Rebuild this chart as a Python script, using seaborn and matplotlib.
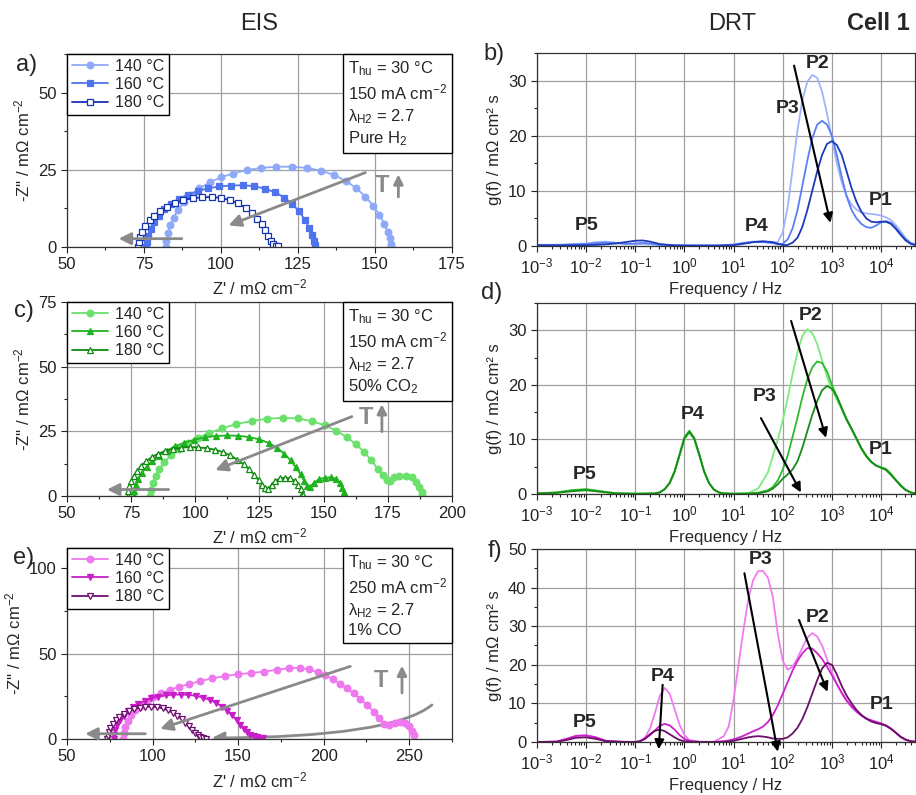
import numpy as np
import pandas as pd
import matplotlib
matplotlib.use("Agg")
import matplotlib.pyplot as plt
from matplotlib.path import Path
from matplotlib.patches import FancyArrowPatch
from matplotlib.ticker import MultipleLocator, LogLocator, NullFormatter
from matplotlib.offsetbox import AnchoredText
import seaborn as sns


TEMPS = ['140 °C', '160 °C', '180 °C']

# ---------------- EIS a) pure H2 ----------------
a_re_140 = [82, 82.2, 82.7, 83.5, 84.6, 86, 88, 90.3, 93, 96.3, 100, 104, 108.3, 113, 118, 123, 128, 132.5,
            136.8, 140.6, 144, 146.9, 149.4, 151.4, 153, 154.1, 154.8, 155.1, 155.2]
a_im_140 = [0, 2, 4.5, 7, 9.5, 12, 14.5, 16.8, 19, 20.9, 22.6, 23.8, 24.9, 25.6, 26, 26, 25.6, 24.7,
            23.3, 21.4, 19, 16.3, 13.4, 10.5, 7.6, 5, 2.8, 1, 0.2]
a_re_160 = [75.8, 76, 76.4, 77.2, 78.3, 79.8, 81.6, 83.8, 86.3, 89.2, 92.4, 95.8, 99.4, 103.2, 107, 110.7,
            114.3, 117.6, 120.6, 123.2, 125.4, 127.2, 128.6, 129.6, 130.3, 130.6]
a_im_160 = [0, 1.5, 3.5, 5.8, 8, 10.2, 12.2, 14, 15.6, 17, 18.1, 19, 19.6, 19.9, 20, 19.7,
            18.9, 17.7, 16, 13.9, 11.5, 8.9, 6.3, 3.9, 1.9, 0.5]
a_re_180 = [73.2, 73.4, 73.8, 74.5, 75.5, 76.8, 78.4, 80.3, 82.5, 85, 87.8, 90.8, 93.9, 97, 100, 102.9,
            105.6, 108, 110, 111.8, 113.2, 114.4, 115.4, 116.2, 117, 117.8, 118.6]
a_im_180 = [0, 1.5, 3.2, 5, 6.8, 8.6, 10.2, 11.7, 13, 14.2, 15.1, 15.8, 16.1, 16.2, 15.9, 15.2,
            14.1, 12.7, 11, 9.2, 7.3, 5.4, 3.6, 2, 0.9, 0.4, 0.2]

# ---------------- EIS c) 50% CO2 ----------------
c_re_140 = [82.5, 82.8, 83.4, 84.5, 86, 88, 90.5, 93.5, 97, 101, 105.5, 110.5, 116, 122, 128, 134, 140,
            145.5, 150.5, 155, 159, 162.6, 165.8, 168.6, 171, 173, 174.5, 176, 177.5, 179.5, 182, 184.3,
            186, 187.3, 188.2, 188.5]
c_im_140 = [0, 2.5, 5, 7.8, 10.5, 13.2, 15.8, 18.2, 20.4, 22.5, 24.4, 26.2, 27.8, 29, 29.9, 30.2, 30,
            28.9, 27.3, 25.2, 22.8, 20, 17, 13.8, 10.6, 8, 6.2, 5.8, 7.2, 7.8, 7.7, 7.2,
            5.6, 3.6, 1.5, 0.4]
c_re_160 = [76, 76.2, 76.8, 77.8, 79.2, 81, 83.2, 85.8, 88.8, 92.1, 95.7, 99.6, 103.7, 108, 112.4, 116.7,
            120.9, 124.9, 128.6, 131.9, 134.7, 137.1, 139.2, 141, 142.4, 143.5, 144.8, 146.3, 148.2,
            150.5, 153, 155, 156.3, 157.3, 158.1, 158.5]
c_im_160 = [0, 2, 4.3, 6.7, 9, 11.3, 13.5, 15.6, 17.5, 19.2, 20.6, 21.8, 22.7, 23.2, 23.4, 23.3,
            22.8, 21.9, 20.5, 18.6, 16.3, 13.8, 11.1, 8.4, 5.9, 4, 3.5, 5.2, 6.4,
            7.1, 7.2, 6.6, 5, 3.2, 1.5, 0.3]
c_re_180 = [73.8, 73.9, 74.3, 75, 76, 77.3, 78.9, 80.8, 83, 85.5, 88.3, 91.3, 94.5, 97.8, 101.1, 104.4,
            107.6, 110.7, 113.6, 116.3, 118.8, 121, 123, 124.7, 126.1, 127.3, 128.5, 129.7, 131.2, 133,
            135, 137, 138.7, 140, 141, 141.7, 142]
c_im_180 = [0, 1.8, 3.8, 5.8, 7.8, 9.8, 11.7, 13.4, 15, 16.3, 17.4, 18.2, 18.7, 18.9, 18.8, 18.5,
            17.9, 17, 15.7, 14.1, 12.3, 10.3, 8.2, 6.1, 4.3, 3, 2.8, 4.3, 5.8, 6.8,
            7.1, 6.8, 5.9, 4.4, 2.6, 0.9, 0.2]

# ---------------- EIS e) 1% CO ----------------
e_re_140 = [83, 83.3, 84.2, 85.6, 87.6, 90, 93, 96.5, 100.5, 105, 110, 115.5, 121.5, 128, 135, 142.5,
            150, 157.5, 165, 172.5, 180, 186, 191.5, 196.5, 201, 205.5, 209.5, 213.5, 217.5, 221.5,
            225.5, 229.2, 232.5, 235.5, 238.5, 241.5, 244.5, 247.5, 250, 251.8, 252.8]
e_im_140 = [0, 3.5, 7, 10.5, 13.8, 16.8, 19.5, 22, 24.5, 26.8, 28.8, 30.6, 32.3, 34, 35.6, 37,
            38, 38.7, 39.5, 40.6, 41.5, 41.7, 40.8, 39.2, 37.3, 35, 32.5, 29.8, 26.8, 23.5,
            19.8, 16, 12.2, 9, 8.3, 9.5, 10.2, 9.5, 7.6, 5, 2.5]
e_re_160 = [77.3, 77.5, 78.2, 79.4, 81, 83.1, 85.6, 88.5, 91.8, 95.4, 99.3, 103.4, 107.7, 112.1, 116.6,
            121, 125.4, 129.6, 133.6, 137.3, 140.7, 143.8, 146.6, 149.1, 151.3, 153.3, 155.2, 157.2,
            159.3, 161.3, 163.3, 164.8]
e_im_160 = [0, 2.5, 5.3, 8.2, 11, 13.7, 16.3, 18.6, 20.7, 22.4, 23.8, 24.9, 25.6, 26, 26.1,
            25.9, 25.3, 24.3, 22.9, 21.1, 19, 16.5, 13.8, 11, 8.3, 5.9, 4, 2.6,
            1.6, 1, 0.6, 0.4]
e_re_180 = [73.5, 73.7, 74.3, 75.3, 76.7, 78.5, 80.7, 83.2, 86, 89.1, 92.4, 95.8, 99.2, 102.6, 105.9,
            109, 111.9, 114.6, 117, 119.2, 121.2, 123, 124.7, 126.3, 127.9, 129.5, 131]
e_im_180 = [0, 2, 4.2, 6.5, 8.8, 11, 13, 14.8, 16.3, 17.5, 18.4, 18.9, 19, 18.7, 18,
            16.9, 15.4, 13.6, 11.6, 9.5, 7.4, 5.5, 3.8, 2.4, 1.3, 0.6, 0.3]

# ---------------- DRT b) ----------------
b_logf = [-3.0, -2.5, -2.0, -1.8, -1.6, -1.4, -1.2, -1.0, -0.85, -0.7, -0.5, -0.2, 0.2, 0.7, 1.0, 1.2,
          1.4, 1.6, 1.8, 1.9, 2.0, 2.1, 2.2, 2.3, 2.4, 2.5, 2.6, 2.7, 2.8, 2.9, 3.0, 3.1, 3.2, 3.3, 3.4,
          3.5, 3.6, 3.7, 3.8, 3.9, 4.0, 4.1, 4.2, 4.3, 4.4, 4.5, 4.6, 4.7]
b_g_140 = [0.2, 0.25, 0.45, 0.7, 0.8, 0.6, 0.35, 0.3, 0.35, 0.3, 0.15, 0.1, 0.1, 0.1, 0.3, 0.6,
           0.8, 0.8, 0.6, 0.7, 2.5, 7, 14, 21, 26.5, 29.8, 31, 30.5, 28, 24, 19.5, 15, 11.5, 9, 7.5,
           6.6, 6.1, 5.9, 5.8, 5.7, 5.5, 5.2, 4.7, 3.8, 2.6, 1.4, 0.6, 0.3]
b_g_160 = [0.2, 0.2, 0.35, 0.5, 0.6, 0.5, 0.4, 0.45, 0.55, 0.45, 0.2, 0.1, 0.1, 0.1, 0.2, 0.5,
           0.7, 0.7, 0.5, 0.3, 0.4, 1.2, 3.2, 6.5, 11, 15.5, 19.5, 22, 22.7, 22, 20, 16.5, 12.5, 9, 6.5,
           5, 4, 3.4, 3.3, 3.7, 4.3, 4.5, 4.2, 3.3, 2.2, 1.2, 0.5, 0.2]
b_g_180 = [0.1, 0.1, 0.15, 0.2, 0.3, 0.45, 0.7, 0.95, 1.0, 0.8, 0.35, 0.1, 0.05, 0.05, 0.15, 0.4,
           0.7, 0.85, 0.7, 0.4, 0.15, 0.2, 0.6, 1.5, 3.5, 6.5, 10, 13.5, 16.5, 18.5, 19, 18.3, 16.5, 13.5, 10.5,
           8, 6.2, 5, 4.4, 4.3, 4.4, 4.4, 4.0, 3.1, 2.0, 1.0, 0.4, 0.15]

# ---------------- DRT d) ----------------
d_logf = [-3.0, -2.6, -2.3, -2.0, -1.7, -1.4, -1.0, -0.6, -0.5, -0.4, -0.3, -0.2, -0.1, 0.0, 0.1, 0.2,
          0.3, 0.4, 0.5, 0.6, 0.7, 0.8, 1.0, 1.3, 1.5, 1.7, 1.8, 1.9, 2.0, 2.1, 2.2, 2.3, 2.4, 2.5, 2.6,
          2.7, 2.8, 2.9, 3.0, 3.1, 3.2, 3.3, 3.4, 3.5, 3.6, 3.7, 3.8, 3.9, 4.0, 4.1, 4.2, 4.3, 4.4, 4.5,
          4.6, 4.7]
d_g_140 = [0.1, 0.3, 0.6, 0.8, 0.5, 0.15, 0.05, 0.1, 0.3, 0.9, 2.0, 4.0, 7.0, 10.0, 11.2, 10.0,
           7.2, 4.1, 2.0, 0.8, 0.3, 0.1, 0.05, 0.2, 1.0, 4.0, 7.0, 10.0, 13.5, 17.5, 22, 26, 29, 30.2, 29.5,
           27.5, 24.5, 21.5, 19, 17.3, 15.5, 13.5, 11.8, 10, 8.2, 6.8, 5.8, 5.2, 4.9, 4.6, 3.7, 2.6, 1.6, 0.8,
           0.3, 0.1]
d_g_160 = [0.1, 0.3, 0.7, 0.9, 0.5, 0.15, 0.05, 0.1, 0.3, 0.9, 2.1, 4.2, 7.3, 10.4, 11.6, 10.3,
           7.4, 4.2, 2.0, 0.8, 0.3, 0.1, 0.05, 0.1, 0.25, 0.7, 1.3, 2.5, 4.5, 7, 10.5, 14, 17.8, 21, 23.2,
           24.3, 24, 22.5, 20, 17.8, 15.6, 13.6, 11.9, 10.1, 8.3, 6.9, 5.9, 5.2, 4.9, 4.6, 3.7, 2.6, 1.6, 0.8,
           0.3, 0.1]
d_g_180 = [0.1, 0.2, 0.5, 0.7, 0.4, 0.1, 0.05, 0.1, 0.3, 0.9, 2.0, 4.1, 7.1, 10.2, 11.4, 10.1,
           7.2, 4.1, 2.0, 0.8, 0.3, 0.1, 0.05, 0.05, 0.1, 0.5, 1.0, 1.8, 2.8, 3.6, 4.5, 6.0, 8.5, 11.5, 14.5,
           17, 19, 19.8, 19.3, 17.9, 15.8, 13.7, 12.0, 10.2, 8.4, 7.0, 5.9, 5.2, 4.8, 4.4, 3.5, 2.5, 1.5, 0.7,
           0.3, 0.1]

# ---------------- DRT f) ----------------
f_logf = [-3.0, -2.6, -2.4, -2.2, -2.0, -1.8, -1.6, -1.3, -1.0, -0.9, -0.8, -0.7, -0.6, -0.5, -0.4, -0.3,
          -0.2, -0.1, 0.0, 0.1, 0.3, 0.6, 0.8, 0.9, 1.0, 1.1, 1.2, 1.3, 1.4, 1.5, 1.6, 1.7, 1.8, 1.9, 2.0,
          2.1, 2.2, 2.3, 2.4, 2.5, 2.6, 2.7, 2.8, 2.9, 3.0, 3.1, 3.2, 3.3, 3.4, 3.5, 3.6, 3.7, 3.8, 3.9,
          4.0, 4.1, 4.2, 4.3, 4.4, 4.5, 4.6, 4.7]
f_g_140 = [0, 0.1, 0.8, 1.6, 1.7, 1.2, 0.3, 0.05, 0, 0.3, 1.2, 3.5, 7.5, 12, 14, 12.5,
           8.5, 4.5, 1.8, 0.5, 0.05, 0.05, 1.5, 4, 11, 20, 29, 37, 42, 44.3, 44.3, 42.5, 37.5, 28, 21,
           18.7, 19.5, 21.7, 24.5, 27, 28.2, 27.3, 25, 21.5, 18, 15, 12.5, 10.5, 9, 7.8, 6.8, 6.1, 5.6, 5.2,
           4.8, 4.3, 3.5, 2.4, 1.3, 0.6, 0.2, 0.05]
f_g_160 = [0, 0.1, 0.8, 1.6, 1.7, 1.2, 0.3, 0.05, 0, 0.2, 0.8, 1.8, 3.0, 4.2, 4.7, 4.3,
           3.2, 1.8, 0.8, 0.3, 0.05, 0, 0.2, 0.4, 0.7, 1.1, 1.6, 2.2, 2.8, 3.3, 4.0, 5.2, 7.0, 9.5, 12.5,
           15.5, 18.5, 21, 23, 24.3, 24.2, 23, 21.5, 19.5, 17.3, 15, 12.8, 10.8, 9.2, 7.9, 6.9, 6.1, 5.6, 5.2,
           4.8, 4.3, 3.5, 2.4, 1.3, 0.6, 0.2, 0.05]
f_g_180 = [0, 0.05, 0.5, 1.1, 1.2, 0.8, 0.2, 0.05, 0, 0.2, 0.9, 2.0, 2.9, 3.2, 2.8, 2.0,
           1.2, 0.5, 0.2, 0.05, 0, 0, 0.05, 0.1, 0.3, 0.6, 0.9, 1.2, 1.4, 1.5, 1.4, 1.2, 0.9, 0.8, 0.8,
           1.2, 2.2, 3.7, 6.0, 9.0, 12.5, 16, 19, 20.5, 20, 17.5, 14.5, 12, 10, 8.3, 7, 6, 5.3, 4.9,
           4.6, 4.2, 3.4, 2.4, 1.3, 0.6, 0.2, 0.05]

BOX_A = "T$_{\\mathregular{hu}}$ = 30 °C\n150 mA cm$^{\\mathregular{-2}}$\nλ$_{\\mathregular{H2}}$ = 2.7\nPure H$_{\\mathregular{2}}$"
BOX_C = "T$_{\\mathregular{hu}}$ = 30 °C\n150 mA cm$^{\\mathregular{-2}}$\nλ$_{\\mathregular{H2}}$ = 2.7\n50% CO$_{\\mathregular{2}}$"
BOX_E = "T$_{\\mathregular{hu}}$ = 30 °C\n250 mA cm$^{\\mathregular{-2}}$\nλ$_{\\mathregular{H2}}$ = 2.7\n1% CO"

GRAY = '#8a8a8a'


def style_axes(ax):
    ax.set_axisbelow(True)
    ax.grid(True, which='major', color='#a0a0a0', lw=0.9)
    ax.grid(False, which='minor')
    ax.tick_params(which='both', direction='out', labelsize=12, colors='#222222', width=0.8)
    ax.tick_params(which='major', length=4)
    ax.tick_params(which='minor', length=2.5)
    for sp in ax.spines.values():
        sp.set_color('#333333')
        sp.set_linewidth(0.9)


def plot_eis(ax, curves, colors, markers, fills, xlim, ylim, xstep, ystep, box):
    for (re, im), label, c, m, filled in zip(curves, TEMPS, colors, markers, fills):
        sns.lineplot(x=re, y=im, sort=False, estimator=None, ax=ax, color=c, lw=1.3,
                     marker=m, markersize=4.8, markerfacecolor=c if filled else 'white',
                     markeredgecolor=c, markeredgewidth=0.9, label=label)
    ax.set_xlim(*xlim)
    ax.set_ylim(*ylim)
    ax.xaxis.set_major_locator(MultipleLocator(xstep))
    ax.xaxis.set_minor_locator(MultipleLocator(xstep / 2))
    ax.yaxis.set_major_locator(MultipleLocator(ystep))
    ax.yaxis.set_minor_locator(MultipleLocator(ystep / 2))
    ax.set_xlabel("Z' / mΩ cm$^{\\mathregular{-2}}$", fontsize=12)
    ax.set_ylabel("-Z'' / mΩ cm$^{\\mathregular{-2}}$", fontsize=12)
    style_axes(ax)
    leg = ax.legend(loc='upper left', borderaxespad=0, fancybox=False, edgecolor='black',
                    framealpha=1, fontsize=11.5, handlelength=2.3, borderpad=0.3,
                    labelspacing=0.2, handletextpad=0.4)
    leg.get_frame().set_linewidth(1)
    at = AnchoredText(box, loc='upper right', prop=dict(size=12, linespacing=1.3),
                      frameon=True, borderpad=0, pad=0.3)
    at.patch.set_boxstyle('square,pad=0')
    at.patch.set_edgecolor('black')
    at.patch.set_linewidth(1)
    ax.add_artist(at)


def plot_drt(ax, logf, series, colors, ylim, ystep):
    ax.set_xscale('log')
    df = pd.concat([pd.DataFrame({'freq': np.power(10.0, logf), 'g': vals, 'T': t})
                    for vals, t in zip(series, TEMPS)])
    sns.lineplot(data=df, x='freq', y='g', hue='T', palette=colors, ax=ax, legend=False,
                 lw=1.3, estimator=None)
    ax.set_xlim(1e-3, 4.9e4)
    ax.set_ylim(*ylim)
    ax.xaxis.set_major_locator(LogLocator(base=10, numticks=20))
    ax.xaxis.set_minor_locator(LogLocator(base=10, subs=np.arange(2, 10), numticks=20))
    ax.xaxis.set_minor_formatter(NullFormatter())
    ax.yaxis.set_major_locator(MultipleLocator(ystep))
    ax.yaxis.set_minor_locator(MultipleLocator(ystep / 2))
    ax.set_xlabel('Frequency / Hz', fontsize=12)
    ax.set_ylabel('g(f) / mΩ cm² s', fontsize=12)
    style_axes(ax)


def arrow(ax, tail, head, color, lw, ms):
    ax.annotate('', xy=head, xytext=tail, annotation_clip=False,
                arrowprops=dict(arrowstyle='-|>', color=color, lw=lw, mutation_scale=ms,
                                shrinkA=0, shrinkB=0))


def t_up(ax, tpos, x_arrow, y0, y1):
    ax.text(*tpos, 'T', color=GRAY, fontsize=17, fontweight='bold', ha='center', va='center')
    arrow(ax, (x_arrow, y0), (x_arrow, y1), GRAY, 2, 14)


def peaks(ax, labels):
    for txt, x, y in labels:
        ax.text(x, y, txt, fontsize=14, fontweight='bold', ha='center', va='center')


def main():
    sns.set_theme(style='ticks')
    plt.rcParams['font.family'] = ['Liberation Sans', 'DejaVu Sans']
    plt.rcParams['mathtext.fontset'] = 'custom'
    plt.rcParams['mathtext.rm'] = 'Liberation Sans'
    plt.rcParams['mathtext.it'] = 'Liberation Sans:italic'
    plt.rcParams['mathtext.bf'] = 'Liberation Sans:bold'

    fig = plt.figure(figsize=(9.16, 7.95), dpi=100)
    ax_a = fig.add_axes([0.0731, 0.6893, 0.4203, 0.2428])
    ax_b = fig.add_axes([0.5862, 0.6906, 0.4127, 0.2428])
    ax_c = fig.add_axes([0.0731, 0.3761, 0.4203, 0.2440])
    ax_d = fig.add_axes([0.5862, 0.3786, 0.4127, 0.2403])
    ax_e = fig.add_axes([0.0731, 0.0704, 0.4203, 0.2403])
    ax_f = fig.add_axes([0.5862, 0.0667, 0.4127, 0.2428])

    blues_eis = ['#8da9f8', '#4f73ec', '#1533b0']
    greens_eis = ['#6be06b', '#1fb31f', '#0e8a0e']
    pinks_eis = ['#ee78ee', '#c81ec8', '#6e0e6e']

    plot_eis(ax_a, [(a_re_140, a_im_140), (a_re_160, a_im_160), (a_re_180, a_im_180)],
             blues_eis, ['o', 's', 's'], [True, True, False], (50, 175), (0, 62.5), 25, 25, BOX_A)
    arrow(ax_a, (146.9, 24.1), (102.5, 7.0), GRAY, 2, 18)
    arrow(ax_a, (87.3, 2.7), (66.8, 2.7), GRAY, 2, 18)
    t_up(ax_a, (152.4, 20), 157.6, 16.2, 23.5)

    plot_eis(ax_c, [(c_re_140, c_im_140), (c_re_160, c_im_160), (c_re_180, c_im_180)],
             greens_eis, ['o', '^', '^'], [True, True, False], (50, 200), (0, 75), 25, 25, BOX_C)
    arrow(ax_c, (161, 30.7), (107.8, 10), GRAY, 2, 18)
    arrow(ax_c, (89.6, 2.5), (65.6, 2.5), GRAY, 2, 18)
    t_up(ax_c, (166.5, 30.3), 172.7, 24.9, 35.5)

    plot_eis(ax_e, [(e_re_140, e_im_140), (e_re_160, e_im_160), (e_re_180, e_im_180)],
             pinks_eis, ['o', 'v', 'v'], [True, True, False], (50, 275), (0, 112), 50, 50, BOX_E)
    arrow(ax_e, (215.6, 42.6), (104.5, 6), GRAY, 2, 18)
    arrow(ax_e, (95.8, 3.1), (60.7, 3.1), GRAY, 2, 18)
    curve = Path([(263.3, 20), (240, 1), (134.7, 0.6)], [Path.MOVETO, Path.CURVE3, Path.CURVE3])
    ax_e.add_patch(FancyArrowPatch(path=curve, arrowstyle='-|>', color=GRAY, lw=2,
                                   mutation_scale=18, transform=ax_e.transData))
    t_up(ax_e, (233.5, 34.3), 245.8, 27, 43)

    plot_drt(ax_b, b_logf, [b_g_140, b_g_160, b_g_180], ['#9db5ff', '#5c7ef5', '#1c3bb8'], (0, 35), 10)
    arrow(ax_b, (170, 32.7), (933, 4.2), 'black', 1.5, 14)
    peaks(ax_b, [('P2', 500, 33), ('P3', 123, 25), ('P1', 1e4, 8.3), ('P5', 0.0102, 3.8), ('P4', 30, 3.5)])

    plot_drt(ax_d, d_logf, [d_g_140, d_g_160, d_g_180], ['#7deb7d', '#2dbb2d', '#178c17'], (0, 35), 10)
    arrow(ax_d, (148, 31.7), (760, 10.3), 'black', 1.5, 14)
    arrow(ax_d, (36, 13.9), (234, 0.3), 'black', 1.5, 14)
    peaks(ax_d, [('P2', 372, 32.7), ('P3', 42, 17.9), ('P4', 1.48, 14.5), ('P5', 0.0093, 3.5), ('P1', 9800, 8.1)])

    plot_drt(ax_f, f_logf, [f_g_140, f_g_160, f_g_180], ['#f07cf0', '#cc22cc', '#6b0f6b'], (0, 50), 10)
    arrow(ax_f, (0.36, 14.8), (0.30, -1.9), 'black', 1.5, 14)
    arrow(ax_f, (16.6, 43.7), (79, -2.5), 'black', 1.5, 14)
    arrow(ax_f, (214, 31.6), (813, 13), 'black', 1.5, 14)
    peaks(ax_f, [('P3', 36, 47.2), ('P2', 513, 32.3), ('P4', 0.363, 16.9), ('P5', 0.0093, 5), ('P1', 10500, 9.6)])

    fig.text(259 / 916, 1 - 24 / 795, 'EIS', fontsize=17, ha='center', va='center')
    fig.text(732 / 916, 1 - 24 / 795, 'DRT', fontsize=17, ha='center', va='center')
    fig.text(878 / 916, 1 - 24 / 795, 'Cell 1', fontsize=17, fontweight='bold', ha='center', va='center')
    for lab, x, y in [('a)', 27, 65), ('b)', 494, 54), ('c)', 24, 311),
                      ('d)', 492, 293), ('e)', 24, 558), ('f)', 495, 551)]:
        fig.text(x / 916, 1 - y / 795, lab, fontsize=17, ha='center', va='center')

    fig.savefig('out.png', dpi=100)


if __name__ == '__main__':
    main()
